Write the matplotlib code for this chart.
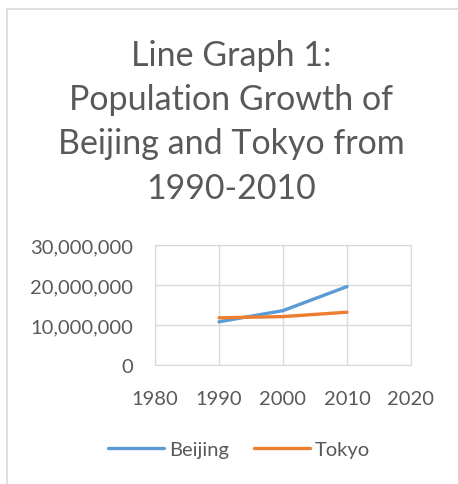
import matplotlib
matplotlib.use('Agg')
import matplotlib.pyplot as plt
from matplotlib.lines import Line2D
from matplotlib.ticker import FuncFormatter

years = [1990, 2000, 2010]
beijing = [10800000, 13600000, 19600000]
tokyo = [11800000, 12100000, 13200000]
x_ticks = [1980, 1990, 2000, 2010, 2020]
y_ticks = [0, 10000000, 20000000, 30000000]

W, H = 458, 485
text_color = '#595959'
grid_color = '#d9d9d9'
plt.rcParams['font.family'] = ['Lato', 'DejaVu Sans']

fig = plt.figure(figsize=(W / 100, H / 100), dpi=100)

# chart frame (only left and top edges are visible in the crop)
fig.add_artist(Line2D([7 / W, 7 / W], [0, 1 - 10 / H], color=grid_color, lw=1.2,
                      transform=fig.transFigure))
fig.add_artist(Line2D([7 / W, 1], [1 - 10 / H, 1 - 10 / H], color=grid_color, lw=1.2,
                      transform=fig.transFigure))

fig.text(231 / W, 1 - 40 / H,
         'Line Graph 1:\nPopulation Growth of\nBeijing and Tokyo from\n1990-2010',
         ha='center', va='top', fontsize=24.5, color=text_color, linespacing=1.47)

ax = fig.add_axes([155 / W, 1 - 366 / H, 256 / W, 120 / H])
ax.plot(years, beijing, color='#5b9bd5', lw=2.4, label='Beijing', solid_capstyle='round')
ax.plot(years, tokyo, color='#ed7d31', lw=2.4, label='Tokyo', solid_capstyle='round')

ax.set_xlim(1980, 2020)
ax.set_ylim(0, 30000000)
ax.set_xticks(x_ticks)
ax.set_yticks(y_ticks)
ax.yaxis.set_major_formatter(FuncFormatter(lambda v, p: f'{int(v):,}'))
ax.grid(True, color=grid_color, lw=1)
ax.set_axisbelow(True)
for s in ax.spines.values():
    s.set_color(grid_color)
ax.tick_params(length=0, labelsize=14.5, labelcolor=text_color)
ax.tick_params(axis='y', pad=16)
ax.tick_params(axis='x', pad=18)

fig.legend(loc='center', bbox_to_anchor=(239 / W, 1 - 450 / H), ncol=2, frameon=False,
           fontsize=14.5, labelcolor=text_color, handlelength=2.8, handletextpad=0.25,
           columnspacing=1.2)

fig.savefig('out.png', dpi=100)
